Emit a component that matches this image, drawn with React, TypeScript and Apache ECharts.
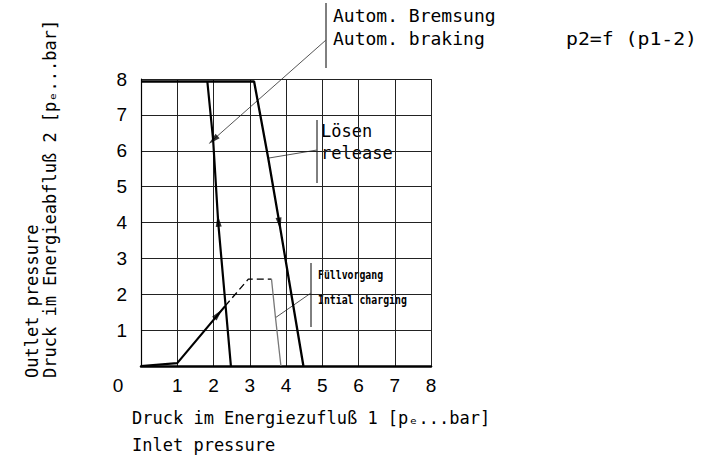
import React, { useEffect, useRef } from 'react';
import * as echarts from 'echarts';

// Data (inlet pressure p1 [bar], outlet pressure p2 [bar])
const axisTicks = [0, 1, 2, 3, 4, 5, 6, 7, 8];
const releaseCurve = [[0, 7.93], [3.12, 7.93], [3.51, 5.79], [3.82, 3.97], [4.48, 0]];
const brakingCurve = [[1.83, 7.93], [1.99, 6.3], [2.13, 4.0], [2.48, 0]];
const chargingSolid = [[0, 0], [1, 0.08], [2.32, 1.67]];
const chargingDashed = [[2.32, 1.67], [2.96, 2.42], [3.6, 2.42]];
const chargingReturn = [[3.6, 2.42], [3.71, 1.35], [3.86, 0]];
const arrowPoints = [[2.13, 4.05], [3.82, 3.97], [2.13, 1.45], [1.99, 6.3]];
const arrowAngles = [5, 189, -40, 132];

const xTitle = 'Druck im Energiezufluß 1 [pₑ...bar]';
const xTitle2 = 'Inlet pressure';
const yTitle = 'Druck im Energieabfluß 2 [pₑ...bar]';
const yTitle2 = 'Outlet pressure';
const brakeLabels = ['Autom. Bremsung', 'Autom. braking'];
const releaseLabels = ['Lösen', 'release'];
const chargeLabels = ['Füllvorgang', 'Intial charging'];
const formulaLabel = 'p2=f (p1-2)';

const MONO = '"DejaVu Sans Mono", monospace';
const SANS = '"Liberation Sans", Arial, sans-serif';

export default function App() {
  const ref = useRef<HTMLDivElement>(null);
  useEffect(() => {
    if (!ref.current) return;
    const chart = echarts.init(ref.current, undefined, { renderer: 'svg' });
    const txt = (text: string, x: number, y: number, size: number, extra: any = {}) => ({
      type: 'text',
      x,
      y,
      ...extra,
      style: {
        text,
        fontSize: size,
        fontFamily: MONO,
        fill: '#000',
        align: 'left',
        verticalAlign: 'middle',
        ...(extra.style || {}),
      },
    });
    const ln = (x1: number, y1: number, x2: number, y2: number, w = 1, c = '#000') => ({
      type: 'line',
      shape: { x1, y1, x2, y2 },
      style: { stroke: c, lineWidth: w },
    });
    chart.setOption({
      animation: false,
      backgroundColor: '#fff',
      grid: { left: 141, top: 79, width: 290, height: 287, containLabel: false },
      xAxis: {
        type: 'value',
        min: 0,
        max: 8,
        interval: 1,
        axisLine: { show: true, lineStyle: { color: '#000', width: 2.5 } },
        axisTick: { show: false },
        splitLine: { show: true, showMinLine: true, showMaxLine: true, lineStyle: { color: '#222', width: 1 } },
        axisLabel: {
          margin: 10,
          color: '#000',
          fontSize: 19,
          fontFamily: SANS,
          formatter: (v: number) => (v === 0 ? '{z|0}' : String(axisTicks[v])),
          rich: { z: { fontSize: 19, fontFamily: SANS, color: '#000', padding: [0, 46, 0, 0] } },
        },
      },
      yAxis: {
        type: 'value',
        min: 0,
        max: 8,
        interval: 1,
        axisLine: { show: true, lineStyle: { color: '#000', width: 1.2 } },
        axisTick: { show: false },
        splitLine: { show: true, showMinLine: true, showMaxLine: true, lineStyle: { color: '#222', width: 1 } },
        axisLabel: {
          margin: 14,
          color: '#000',
          fontSize: 19,
          fontFamily: SANS,
          formatter: (v: number) => (v === 0 ? '' : String(axisTicks[v])),
        },
      },
      series: [
        {
          name: 'Lösen',
          type: 'line',
          data: releaseCurve,
          symbol: 'none',
          lineStyle: { color: '#000', width: 2.3 },
        },
        {
          name: 'Autom. Bremsung',
          type: 'line',
          data: brakingCurve,
          symbol: 'none',
          lineStyle: { color: '#000', width: 2.2 },
        },
        {
          name: 'Füllvorgang',
          type: 'line',
          data: chargingSolid,
          symbol: 'none',
          lineStyle: { color: '#000', width: 2.2 },
        },
        {
          name: 'Füllvorgang dashed',
          type: 'line',
          data: chargingDashed,
          symbol: 'none',
          lineStyle: { color: '#000', width: 1.3, type: [7, 4] },
        },
        {
          name: 'Füllvorgang return',
          type: 'line',
          data: chargingReturn,
          symbol: 'none',
          lineStyle: { color: '#777', width: 1.3 },
        },
        {
          name: 'arrows',
          type: 'scatter',
          symbol: 'triangle',
          symbolSize: [6, 12],
          itemStyle: { color: '#000' },
          data: arrowPoints.map((p, i) => ({ value: p, symbolRotate: arrowAngles[i] })),
          z: 5,
        },
      ],
      graphic: [
        // Autom. Bremsung annotation
        ln(326, 3, 326, 68, 1),
        ln(326, 40, 214, 139, 1, '#555'),
        txt(brakeLabels[0], 333, 15, 18),
        txt(brakeLabels[1], 333, 38, 18),
        txt(formulaLabel, 566, 38, 18, { scaleX: 1.1 }),
        // Lösen annotation
        ln(317, 120, 317, 183, 1),
        ln(317, 150, 269, 158, 1, '#555'),
        txt(releaseLabels[0], 321, 131, 17),
        txt(releaseLabels[1], 321, 153, 17),
        // Füllvorgang annotation
        ln(311, 263, 311, 327, 1),
        ln(311, 293, 275, 318, 1, '#555'),
        txt(chargeLabels[0], 318, 275, 12, { scaleX: 0.82, style: { fontWeight: 'bold' } }),
        txt(chargeLabels[1], 318, 300, 12, { scaleX: 0.82, style: { fontWeight: 'bold' } }),
        // axis titles
        txt(xTitle, 132, 418, 17),
        txt(xTitle2, 132, 445, 17),
        txt(yTitle2, 32, 378, 17, { rotation: Math.PI / 2 }),
        txt(yTitle, 50, 378, 17, { rotation: Math.PI / 2 }),
      ],
    });
    return () => chart.dispose();
  }, []);
  return (
    <div
      ref={ref}
      style={{ position: 'fixed', left: 0, top: 0, width: 701, height: 471, background: '#fff' }}
    />
  );
}
